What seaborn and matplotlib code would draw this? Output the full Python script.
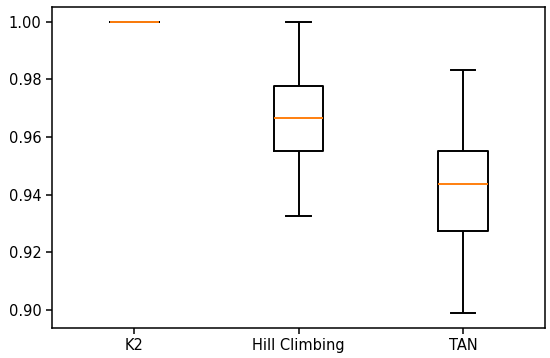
import pandas as pd
import seaborn as sns
import matplotlib.pyplot as plt

# five-number summaries (min, q1, median, q3, max)
methods = ["K2", "Hill Climbing", "TAN"]
k2_scores = [1.0, 1.0, 1.0, 1.0, 1.0]
hill_scores = [0.9326, 0.9551, 0.9666, 0.9776, 1.0]
tan_scores = [0.8990, 0.9274, 0.9438, 0.9552, 0.9832]

df = pd.DataFrame({
    "method": [methods[0]] * len(k2_scores) + [methods[1]] * len(hill_scores) + [methods[2]] * len(tan_scores),
    "score": k2_scores + hill_scores + tan_scores,
})

fig = plt.figure(figsize=(5.5, 3.58), dpi=100)
ax = fig.add_axes([0.0945, 0.0838, 0.897, 0.898])

sns.boxplot(data=df, x="method", y="score", order=methods, fill=False,
            color="black", linewidth=1.4, width=0.3, whis=1.5,
            medianprops={"color": "#ff7f0e"}, ax=ax)

ax.set_xlabel("")
ax.set_ylabel("")
ax.set_xlim(-0.5, 2.5)
ax.set_ylim(0.8938, 1.0052)
ax.set_yticks([0.90, 0.92, 0.94, 0.96, 0.98, 1.00])
ax.set_yticklabels(["0.90", "0.92", "0.94", "0.96", "0.98", "1.00"])
ax.tick_params(labelsize=10.5, width=1.1, length=4)
for s in ax.spines.values():
    s.set_linewidth(1.1)

plt.savefig("out.png", dpi=100)
